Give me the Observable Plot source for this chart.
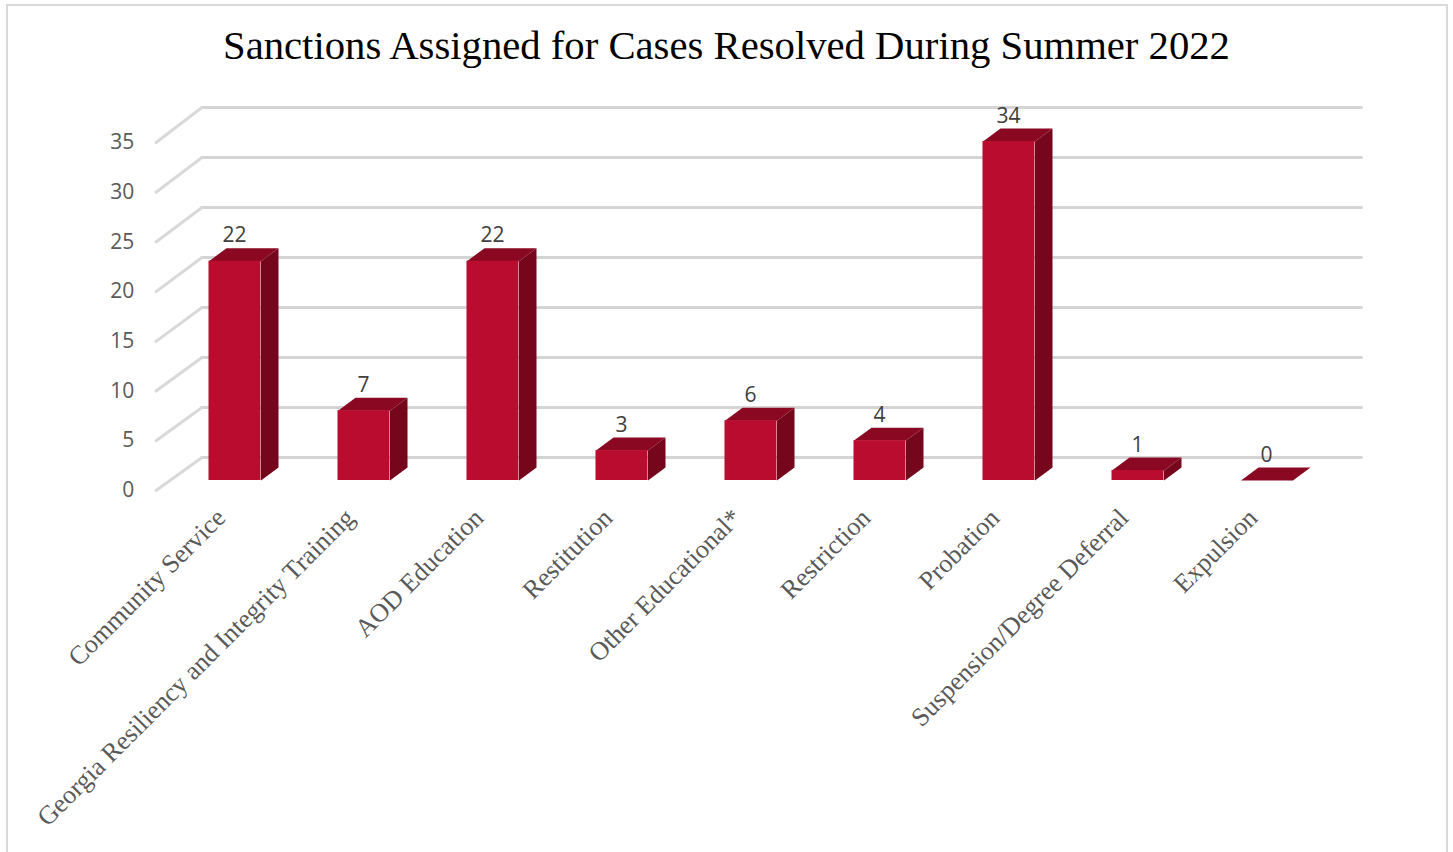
<!DOCTYPE html>
<html><head><meta charset="utf-8">
<script src="https://cdn.jsdelivr.net/npm/d3@7"></script>
<script src="https://cdn.jsdelivr.net/npm/@observablehq/plot@0.6"></script>
<style>
html,body{margin:0;padding:0;background:#fff;overflow:hidden}
#wrap{position:relative;width:1453px;height:852px;overflow:hidden}
#frame{position:absolute;left:6px;top:4px;width:1438px;height:860px;border:2px solid #d9d9d9;box-sizing:content-box}
#title{position:absolute;left:0;top:0;width:1453px;height:92px;text-align:center;font-family:"Liberation Serif",serif;font-size:40.7px;line-height:92px;color:#000;font-variant-numeric:oldstyle-nums;white-space:nowrap}
#chart{position:absolute;left:0;top:92px}
svg{display:block}
</style></head><body>
<div id="wrap"><div id="frame"></div><div id="title">Sanctions Assigned for Cases Resolved During Summer 2022</div><div id="chart"></div></div>
<script>
const categories = ["Community Service","Georgia Resiliency and Integrity Training","AOD Education","Restitution","Other Educational*","Restriction","Probation","Suspension/Degree Deferral","Expulsion"];
const values = [22,7,22,3,6,4,34,1,0];
const yTicks = [0,5,10,15,20,25,30,35];

const rows = categories.map((c,i)=>({c,i,v:values[i]}));
// 3-D projection, in data units
const hw=.2016, ddx=.1357, ddy=1.3;
const wallFrontX=-.612, wallBackX=-.256, wallRightX=8.735;
const backY=t=>t*1.003+2.307, frontY=t=>t*.997-1;

const topFaces=rows.flatMap(r=>[[-hw,0],[hw,0],[hw+ddx,ddy],[-hw+ddx,ddy]].map(([a,b])=>({c:r.c,x:r.i+a,y:r.v+b})));
const sideFaces=rows.filter(r=>r.v>0).flatMap(r=>[[hw,0],[hw+ddx,ddy],[hw+ddx,r.v+ddy],[hw,r.v]].map(([a,b])=>({c:r.c,x:r.i+a,y:b})));

const chart=Plot.plot({
  width:1453,height:760,margin:0,
  x:{domain:[-1,9],range:[105.5,1395.5],axis:null},
  y:{domain:[0,38],range:[388,9.1],axis:null},
  marks:[
    Plot.ruleY(yTicks,{y:backY,x1:wallBackX,x2:wallRightX,stroke:"#d4d4d4",strokeWidth:3,strokeLinecap:"round"}),
    Plot.link(yTicks,{x1:()=>wallFrontX,y1:frontY,x2:()=>wallBackX,y2:backY,stroke:"#d9d9d9",strokeWidth:3,strokeLinecap:"round"}),
    Plot.line(topFaces,{x:"x",y:"y",z:"c",fill:"#8a0822",stroke:"none"}),
    Plot.line(sideFaces,{x:"x",y:"y",z:"c",fill:"#75061c",stroke:"none"}),
    Plot.rect(rows.filter(r=>r.v>0),{x1:r=>r.i-hw,x2:r=>r.i+hw,y1:()=>0,y2:"v",fill:"#ba0c2f"}),
    Plot.text(rows,{x:"i",y:"v",text:r=>String(r.v),dx:-.5,dy:-25.5,fontFamily:"Open Sans",fontSize:21,fill:"#404040"}),
    Plot.text(yTicks,{x:()=>-.78,y:frontY,text:t=>String(t),textAnchor:"end",dy:0,fontFamily:"Open Sans",fontSize:21,fill:"#595959"}),
    Plot.text(rows,{x:"i",y:()=>0,text:"c",rotate:-45,textAnchor:"end",dx:-14,dy:33,fontFamily:"Liberation Serif",fontSize:26.1,fill:"#595959"})
  ]
});
document.getElementById("chart").append(chart);
</script>
</body></html>
